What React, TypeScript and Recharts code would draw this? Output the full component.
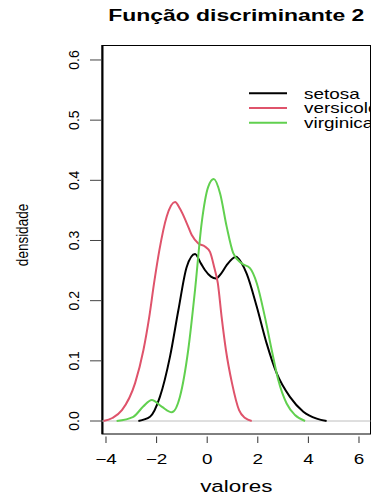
import React from 'react';
import { LineChart, Line, XAxis, YAxis, ReferenceLine, Customized } from 'recharts';

const chartTitle = 'Função discriminante 2';
const xAxisLabel = 'valores';
const yAxisLabel = 'densidade';

const seriesNames = ['setosa', 'versicolor', 'virginica'];
const seriesColors = ['#000000', '#DF536B', '#61D04F'];

const setosaX = [-2.72, -2.26, -1.87, -1.47, -1.14, -0.81, -0.48, -0.25, -0.09, 0.15, 0.35, 0.55, 0.77, 1.14, 1.35, 1.56, 1.96, 2.35, 2.75, 3.27, 3.8, 4.33, 4.72];
const setosaY = [0, 0.007, 0.04, 0.107, 0.184, 0.256, 0.2775, 0.262, 0.251, 0.24, 0.237, 0.245, 0.259, 0.273, 0.263, 0.245, 0.19, 0.129, 0.079, 0.04, 0.0155, 0.004, 0];

const versicolorX = [-4.1, -3.75, -3.37, -2.85, -2.52, -2.29, -2.1, -1.89, -1.6, -1.27, -1.08, -0.81, -0.61, -0.35, -0.09, 0.11, 0.28, 0.42, 0.57, 0.74, 0.98, 1.26, 1.5, 1.76];
const versicolorY = [0, 0.005, 0.018, 0.063, 0.118, 0.173, 0.229, 0.284, 0.34, 0.364, 0.353, 0.329, 0.309, 0.295, 0.29, 0.281, 0.255, 0.229, 0.173, 0.118, 0.063, 0.018, 0.005, 0];

const virginicaX = [-3.58, -2.92, -2.53, -2.19, -1.8, -1.4, -1.08, -0.75, -0.48, -0.22, 0.04, 0.26, 0.51, 0.77, 1.03, 1.36, 1.69, 1.96, 2.28, 2.55, 2.81, 3.14, 3.47, 3.87];
const virginicaY = [0, 0.007, 0.024, 0.035, 0.024, 0.0145, 0.04, 0.118, 0.218, 0.3285, 0.389, 0.402, 0.378, 0.323, 0.279, 0.262, 0.254, 0.229, 0.173, 0.118, 0.068, 0.029, 0.01, 0];

const xTicks = [-4, -2, 0, 2, 4, 6];
const yTicks = [0, 0.1, 0.2, 0.3, 0.4, 0.5, 0.6];
const yTickLabels = ['0.0', '0.1', '0.2', '0.3', '0.4', '0.5', '0.6'];

const toPoints = (xs: number[], ys: number[]) => xs.map((x, i) => ({ x, y: ys[i] }));
const seriesData = [
  toPoints(setosaX, setosaY),
  toPoints(versicolorX, versicolorY),
  toPoints(virginicaX, virginicaY),
];

const FONT = '"Liberation Sans", Arial, Helvetica, sans-serif';
const W = 373;
const H = 495;
const PL = 102;
const PR = 370.5;
const PT = 45;
const PB = 434;
const X_DOMAIN: [number, number] = [-4.158, 6.455];
const Y_DOMAIN: [number, number] = [-0.0216, 0.6249];
const SX = 1.35;

const fmtX = (v: number) => (v < 0 ? '\u2212' + Math.abs(v) : String(v));

const XTick = (props: any) => {
  const { x, y, payload } = props;
  return (
    <g>
      <line x1={x} x2={x} y1={y + 2.5} y2={y + 9} stroke="#333" strokeWidth={1} />
      <text
        transform={`translate(${x},${y + 29.5}) scale(${SX},1)`}
        x={0}
        y={0}
        textAnchor="middle"
        fontSize={14}
        fontFamily={FONT}
        fill="#000"
      >
        {fmtX(payload.value)}
      </text>
    </g>
  );
};

const YTick = (props: any) => {
  const { x, y, payload } = props;
  const idx = yTicks.indexOf(payload.value);
  const label = idx >= 0 ? yTickLabels[idx] : String(payload.value);
  const bx = x - 23.5;
  return (
    <g>
      <line x1={x - 12} x2={x} y1={y} y2={y} stroke="#444" strokeWidth={1} />
      <text
        transform={`translate(${bx},${y}) rotate(-90)`}
        x={0}
        y={0}
        textAnchor="middle"
        fontSize={14}
        fontFamily={FONT}
        fill="#000"
      >
        {label}
      </text>
    </g>
  );
};

const Decorations = () => (
  <g>
    <defs>
      <clipPath id="plotClip">
        <rect x={0} y={0} width={PR} height={H} />
      </clipPath>
    </defs>
    <text
      transform={`translate(${(PL + PR) / 2},21) scale(${SX},1)`}
      x={0}
      y={0}
      textAnchor="middle"
      fontSize={17}
      fontWeight="bold"
      fontFamily={FONT}
      fill="#000"
    >
      {chartTitle}
    </text>
    <text
      transform={`translate(236.3,491.5) scale(1.32,1)`}
      x={0}
      y={0}
      textAnchor="middle"
      fontSize={17}
      fontFamily={FONT}
      fill="#000"
    >
      {xAxisLabel}
    </text>
    <text
      transform={`translate(27.7,235) rotate(-90) scale(1,1.22)`}
      x={0}
      y={0}
      textAnchor="middle"
      fontSize={13.5}
      fontFamily={FONT}
      fill="#000"
    >
      {yAxisLabel}
    </text>
    <rect x={PL} y={PT + 0.5} width={PR - PL} height={PB - PT - 0.5} fill="none" stroke="#000" strokeWidth={1} />
    <line x1={PL + 0.5} x2={PL + 0.5} y1={PT} y2={PB} stroke="#000" strokeWidth={2} />
    <g clipPath="url(#plotClip)">
      {seriesNames.map((name, i) => (
        <g key={name}>
          <line x1={249} x2={287} y1={93.3 + i * 14.7} y2={93.3 + i * 14.7} stroke={seriesColors[i]} strokeWidth={2} />
          <text
            transform={`translate(304,${98.5 + i * 14.7}) scale(${SX},1)`}
            x={0}
            y={0}
            fontSize={14}
            fontFamily={FONT}
            fill="#000"
          >
            {name}
          </text>
        </g>
      ))}
    </g>
  </g>
);

export default function App() {
  return (
    <div style={{ position: 'absolute', left: 0, top: 0, width: W, height: H, background: '#fff' }}>
      <LineChart width={W} height={H} margin={{ top: PT, right: W - PR, bottom: 0, left: 0 }}>
        <XAxis
          dataKey="x"
          type="number"
          domain={X_DOMAIN}
          allowDataOverflow
          ticks={xTicks}
          interval={0}
          height={H - PB}
          axisLine={false}
          tickLine={false}
          tickSize={0}
          tickMargin={0}
          tick={<XTick />}
        />
        <YAxis
          dataKey="y"
          type="number"
          domain={Y_DOMAIN}
          allowDataOverflow
          ticks={yTicks}
          interval={0}
          width={PL}
          axisLine={false}
          tickLine={false}
          tickSize={0}
          tickMargin={0}
          tick={<YTick />}
        />
        <ReferenceLine y={0} stroke="#BEBEBE" strokeWidth={1} />
        {seriesNames.map((name, i) => (
          <Line
            key={name}
            data={seriesData[i]}
            dataKey="y"
            name={name}
            type="monotone"
            stroke={seriesColors[i]}
            strokeWidth={2}
            dot={false}
            activeDot={false}
            isAnimationActive={false}
          />
        ))}
        <Customized component={Decorations} />
      </LineChart>
    </div>
  );
}
